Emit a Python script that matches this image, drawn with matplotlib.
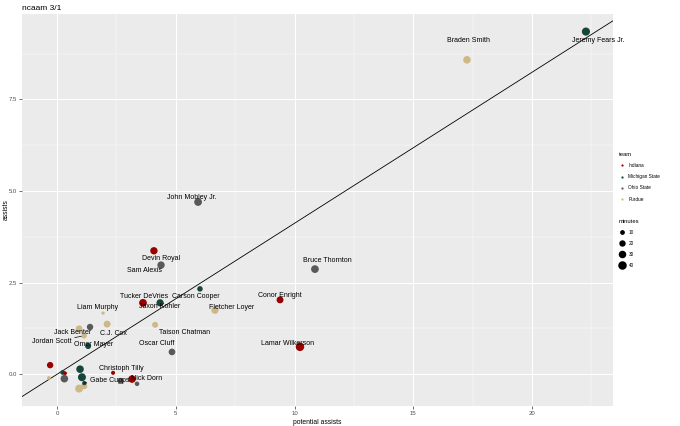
import numpy as np
import matplotlib.pyplot as plt
from matplotlib.lines import Line2D

plt.rcParams['font.family'] = ['Liberation Sans', 'DejaVu Sans']

# data
players = ["Jeremy Fears Jr.", "Braden Smith", "John Mobley Jr.", "Devin Royal", "Sam Alexis",
           "Bruce Thornton", "Carson Cooper", "Tucker DeVries", "Jaxon Kohler", "Conor Enright",
           "Fletcher Loyer", "Liam Murphy", "C.J. Cox", "Taison Chatman", "Jack Benter",
           "", "Jordan Scott", "Omer Mayer", "Oscar Cluff", "Lamar Wilkerson",
           "", "", "", "", "",
           "", "", "", "", "Gabe Cupps",
           "Christoph Tilly", "", "Nick Dorn", ""]
teams = ["Michigan State", "Purdue", "Ohio State", "Indiana", "Ohio State",
         "Ohio State", "Michigan State", "Indiana", "Michigan State", "Indiana",
         "Purdue", "Purdue", "Purdue", "Purdue", "Purdue",
         "Ohio State", "Purdue", "Michigan State", "Ohio State", "Indiana",
         "Indiana", "Purdue", "Michigan State", "Indiana", "Ohio State",
         "Michigan State", "Michigan State", "Purdue", "Purdue", "Michigan State",
         "Indiana", "Ohio State", "Indiana", "Ohio State"]
potential_assists = [22.27, 17.26, 5.94, 4.08, 4.38,
                     10.86, 6.02, 3.62, 4.34, 9.39,
                     6.65, 1.94, 2.11, 4.13, 0.93,
                     1.39, 1.14, 1.31, 4.84, 10.23,
                     -0.29, -0.34, 0.24, 0.34, 0.31,
                     0.97, 1.05, 0.93, 1.14, 1.15,
                     2.36, 2.69, 3.16, 3.37]
assists = [9.35, 8.58, 4.70, 3.37, 2.98,
           2.87, 2.33, 1.95, 1.95, 2.03,
           1.75, 1.67, 1.37, 1.35, 1.24,
           1.29, 1.05, 0.77, 0.61, 0.75,
           0.25, -0.10, 0.05, 0.03, -0.12,
           0.14, -0.08, -0.39, -0.32, -0.24,
           0.04, -0.18, -0.13, -0.26]
minutes = [36, 30, 32, 28, 28,
           32, 14, 32, 27, 24,
           28, 5, 24, 17, 24,
           20, 14, 17, 22, 40,
           20, 6, 10, 6, 30,
           30, 34, 34, 20, 8,
           7, 17, 30, 9]

fit_slope = 0.412
fit_intercept = 0.0

team_colors = {"Indiana": "#990000", "Michigan State": "#18453B",
               "Ohio State": "#595959", "Purdue": "#CEB888"}
size_breaks = [10, 20, 30, 40]

# where the repelled labels ended up, offset from their point in pixels
label_offsets = {
    "Jeremy Fears Jr.": (12, -9), "Braden Smith": (2, 19), "John Mobley Jr.": (-6, 5),
    "Devin Royal": (7, -8), "Sam Alexis": (-17, -5), "Bruce Thornton": (12, 9),
    "Tucker DeVries": (1, 6), "Carson Cooper": (-4, -8), "Jaxon Kohler": (0, -4),
    "Conor Enright": (0, 4), "Fletcher Loyer": (17, 3), "Liam Murphy": (-6, 6),
    "C.J. Cox": (6, -9), "Taison Chatman": (29, -8), "Jack Benter": (-6, -4),
    "Jordan Scott": (-32, -6), "Omer Mayer": (6, 2), "Oscar Cluff": (-15, 8),
    "Lamar Wilkerson": (-12, 3), "Christoph Tilly": (8, 4), "Gabe Cupps": (25, 3),
    "Nick Dorn": (15, 1),
}
with_segment = ["Jordan Scott", "Gabe Cupps"]


def point_size(m):
    # ggplot-like area scale, diameter in pixels -> marker area in pt^2
    d = 2.2 + 6.3 * np.sqrt(np.clip((np.asarray(m, dtype=float) - 4) / 36, 0, 1))
    return (d * 0.72) ** 2


fig = plt.figure(figsize=(6.8, 4.26), dpi=100)
ax = fig.add_axes([22 / 680, 1 - 406 / 426, 591 / 680, 392 / 426])
ax.set_facecolor("#EBEBEB")
for s in ax.spines.values():
    s.set_visible(False)

ax.set_xlim(-1.474, 23.41)
ax.set_ylim(-0.865, 9.83)
ax.set_xticks([0, 5, 10, 15, 20])
ax.set_yticks([0, 2.5, 5, 7.5])
ax.set_yticklabels(["0.0", "2.5", "5.0", "7.5"])
ax.set_xticks([2.5, 7.5, 12.5, 17.5, 22.5], minor=True)
ax.set_yticks([1.25, 3.75, 6.25, 8.75], minor=True)
ax.grid(which="major", color="white", lw=0.75)
ax.grid(which="minor", color="white", lw=0.35)
ax.set_axisbelow(True)
ax.tick_params(which="major", length=2, width=0.5, color="#333333",
               labelsize=4.3, labelcolor="#4D4D4D", pad=1.5)
ax.tick_params(which="minor", length=0)

ax.axline((0, fit_intercept), slope=fit_slope, color="black", lw=0.6, zorder=2)

cols = [team_colors[t] for t in teams]
ax.scatter(potential_assists, assists, s=point_size(minutes), c=cols,
           linewidths=0, zorder=3)

for name, x, y in zip(players, potential_assists, assists):
    if not name:
        continue
    dx, dy = label_offsets[name]
    arrow = None
    if name in with_segment:
        arrow = dict(arrowstyle="-", lw=0.5, color="black", shrinkA=0, shrinkB=2)
    ax.annotate(name, (x, y), xytext=(dx, dy), textcoords="offset pixels",
                ha="center", va="center", fontsize=5, color="black",
                arrowprops=arrow, zorder=4)

ax.set_xlabel("potential assists", fontsize=4.9, labelpad=2)
ax.set_ylabel("assists", fontsize=4.9)
ax.yaxis.set_label_coords(-0.021, 0.5)
ax.set_title("ncaam 3/1", fontsize=6, loc="left", pad=3)

team_handles = [Line2D([], [], ls="", marker="o", markersize=1.6, markeredgewidth=0,
                       color=team_colors[t], label=t) for t in team_colors]
leg1 = ax.legend(handles=team_handles, title="team", loc="upper left",
                 bbox_to_anchor=(619 / 680, 1 - 152 / 426), bbox_transform=fig.transFigure,
                 frameon=False, fontsize=3.4, title_fontsize=4.2, alignment="left",
                 handlelength=1.2, handletextpad=0.8, labelspacing=1.3,
                 borderaxespad=0, borderpad=0)
ax.add_artist(leg1)

size_handles = [Line2D([], [], ls="", marker="o", markersize=np.sqrt(point_size(m)),
                       markeredgewidth=0, color="black", label=str(m)) for m in size_breaks]
ax.legend(handles=size_handles, title="minutes", loc="upper left",
          bbox_to_anchor=(619 / 680, 1 - 219 / 426), bbox_transform=fig.transFigure,
          frameon=False, fontsize=3.4, title_fontsize=4.2, alignment="left",
          handlelength=1.2, handletextpad=0.8, labelspacing=1.25,
          borderaxespad=0, borderpad=0)

fig.savefig("out.png", dpi=100)
